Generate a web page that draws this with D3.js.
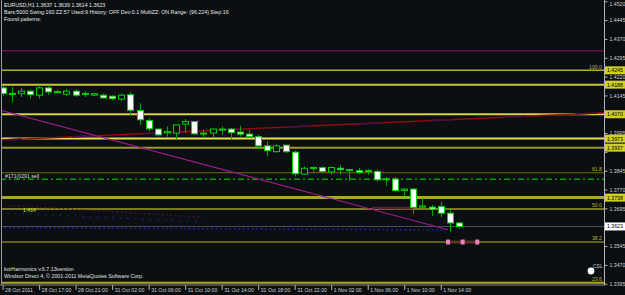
<!DOCTYPE html>
<html><head><meta charset="utf-8">
<script src="https://cdn.jsdelivr.net/npm/d3@7"></script>
<style>
html,body{margin:0;padding:0;background:#0b0f12;overflow:hidden}
svg{display:block}
text{font-family:"Liberation Sans",Arial,sans-serif}
</style>
</head><body>
<svg id="c" width="625" height="295"></svg>
<script>
// ---- data (EURUSD H1, bar 0 = 28 Oct 2011 13:00) ----
const opens  = [1.4175,1.4153,1.4152,1.4162,1.4146,1.4175,1.4160,1.4150,1.4162,1.4151,1.4146,1.4146,1.4142,1.4130,1.4148,1.4085,1.4045,1.4011,1.3996,1.3995,1.4031,1.4041,1.3994,1.3995,1.4010,1.4011,1.3999,1.3991,1.3981,1.3944,1.3921,1.3947,1.3919,1.3832,1.3855,1.3858,1.3840,1.3855,1.3850,1.3845,1.3846,1.3842,1.3811,1.3812,1.3766,1.3772,1.3700,1.3700,1.3703,1.3676,1.3637];
const highs  = [1.4183,1.4179,1.4175,1.4167,1.4186,1.4186,1.4168,1.4171,1.4170,1.4163,1.4155,1.4152,1.4146,1.4152,1.4159,1.4114,1.4054,1.4015,1.4021,1.4029,1.4051,1.4044,1.4008,1.4012,1.4021,1.4015,1.4024,1.4008,1.3988,1.3961,1.3952,1.3948,1.3925,1.3862,1.3862,1.3862,1.3862,1.3868,1.3851,1.3857,1.3851,1.3849,1.3820,1.3820,1.3776,1.3776,1.3736,1.3709,1.3722,1.3689,1.3639];
const lows   = [1.4143,1.4119,1.4139,1.4132,1.4132,1.4148,1.4154,1.4143,1.4139,1.4139,1.4143,1.4132,1.4126,1.4122,1.4066,1.4028,1.4001,1.3981,1.3981,1.3971,1.3995,1.3988,1.3975,1.3975,1.3988,1.3968,1.3981,1.3977,1.3932,1.3902,1.3917,1.3915,1.3822,1.3829,1.3838,1.3835,1.3829,1.3829,1.3805,1.3833,1.3829,1.3802,1.3785,1.3762,1.3742,1.3674,1.3696,1.3665,1.3660,1.3603,1.3614];
const closes = [1.4152,1.4152,1.4162,1.4148,1.4175,1.4159,1.4159,1.4162,1.4146,1.4153,1.4152,1.4135,1.4132,1.4146,1.4086,1.4048,1.4012,1.3988,1.4001,1.4028,1.4041,1.3992,1.3995,1.4011,1.4011,1.3997,1.3991,1.3981,1.3944,1.3925,1.3944,1.3921,1.3833,1.3855,1.3858,1.3842,1.3858,1.3849,1.3848,1.3838,1.3845,1.3809,1.3813,1.3766,1.3772,1.3699,1.3705,1.3692,1.3676,1.3637,1.3623];

const timeLabels = ["28 Oct 2011","28 Oct 17:00","28 Oct 21:00","31 Oct 02:00","31 Oct 06:00","31 Oct 10:00","31 Oct 14:00","31 Oct 18:00","31 Oct 22:00","1 Nov 02:00","1 Nov 06:00","1 Nov 10:00","1 Nov 14:00"];
const timeLabelBars = [0,4,8,12,16,20,24,28,32,36,40,44,48];
const priceTicks = [1.4520,1.4445,1.4370,1.4295,1.4220,1.4145,1.4070,1.3995,1.3920,1.3845,1.3770,1.3695,1.3620,1.3545,1.3470,1.3395];

const levelPrices = [1.4245,1.4188,1.4070,1.3973,1.3937,1.3738];
const levelColors = ["#b0b028","#c8c83c","#d4d448","#e4e450","#9a9a26","#a8a82c"];
const levelWidths = [1.5,2,2,2,2,3];
const fibPrices = [1.4245,1.3837,1.3693,1.3561,1.3399];
const fibLabels = ["100.0","61.8","50.0","38.2","23.6"];
const currentPrice = 1.3623;
const purpleLevel = 1.4323;
const sellLevel = 1.3811;
const redTrend = [[-0.3,1.3967],[65.9,1.4076]];
const magentaTrend = [[-0.3,1.4087],[48.8,1.3610]];
const purpleDots = [[-0.3,1.3709],[21.6,1.3661]];
const blueDots1 = [[-0.3,1.3677],[22,1.3642]];
const blueDots2 = [[-0.3,1.3618],[48.5,1.3609]];
const pinkBand = [[40.5,1.3700],[45.0,1.3692]];
const prz = [[48.8,1.3561],[52.0,1.3561]];

const headerLines = ["EURUSD,H1  1.3637 1.3639 1.3614 1.3623",
  "Bars:5000  Swing:160  ZZ:57  Used:9  History: OFF Dev:0.1  MultiZZ: ON  Range: (96.224)  Step:16",
  "Found patterns:"];
const footerLines = ["korHarmonics v.6.7.13version","Windsor Direct 4, \u00a9 2001-2011 MetaQuotes Software Corp."];

// ---- drawing ----
const W=625,H=295, right=604, bottom=284.5;
const svg=d3.select("#c");
svg.append("rect").attr("width",W).attr("height",H).attr("fill","#0b0f12");
const x=d3.scaleLinear().domain([0,50]).range([2.6,459]);
const y=d3.scaleLinear().domain([1.3395,1.4520]).range([283.7,1.3]);

svg.append("clipPath").attr("id","pc").append("rect").attr("x",2).attr("y",0).attr("width",right-2).attr("height",bottom);
const g=svg.append("g").attr("clip-path","url(#pc)");

g.append("line").attr("x1",0).attr("x2",right).attr("y1",y(purpleLevel)).attr("y2",y(purpleLevel)).attr("stroke","#6a0f4c").attr("stroke-width",1.5);

levelPrices.forEach((p,i)=>{
  g.append("line").attr("x1",0).attr("x2",right).attr("y1",y(p)).attr("y2",y(p))
   .attr("stroke",levelColors[i]).attr("stroke-width",levelWidths[i]);
});
fibPrices.slice(1).forEach((p,i)=>{
  const cols=["#6e6e10","#a0a024","#7c7c12","#a8a824"];
  const ws=[1,1.5,1.5,2];
  g.append("line").attr("x1",0).attr("x2",right).attr("y1",y(p)).attr("y2",y(p))
   .attr("stroke",cols[i]).attr("stroke-width",ws[i]);
});
g.append("line").attr("x1",0).attr("x2",right).attr("y1",y(sellLevel)).attr("y2",y(sellLevel))
 .attr("stroke","#00a000").attr("stroke-width",1.3).attr("stroke-dasharray","6,3,2,3");
g.append("line").attr("x1",0).attr("x2",right).attr("y1",y(currentPrice)).attr("y2",y(currentPrice))
 .attr("stroke","#4c505c").attr("stroke-width",1);

const ln=d3.line().x(d=>x(d[0])).y(d=>y(d[1]));
g.append("path").attr("d",ln(purpleDots)).attr("fill","none").attr("stroke","#5a1050").attr("stroke-width",1.2).attr("stroke-dasharray","1.5,3");
g.append("path").attr("d",ln(blueDots1)).attr("fill","none").attr("stroke","#1a22b0").attr("stroke-width",1.2).attr("stroke-dasharray","1.5,6");
g.append("path").attr("d",ln(blueDots2)).attr("fill","none").attr("stroke","#2028c8").attr("stroke-width",1.4).attr("stroke-dasharray","1.5,3");
g.append("path").attr("d",ln(redTrend)).attr("fill","none").attr("stroke","#8e0a16").attr("stroke-width",1.5);
g.append("path").attr("d",ln(redTrend)).attr("fill","none").attr("stroke","#4a0c40").attr("stroke-width",1.6).attr("stroke-dasharray","22,50");
g.append("path").attr("d",ln(magentaTrend)).attr("fill","none").attr("stroke","#9a1a8e").attr("stroke-width",1.1);
g.append("rect").attr("x",x(pinkBand[0][0])).attr("y",y(pinkBand[0][1])).attr("width",x(pinkBand[1][0])-x(pinkBand[0][0])).attr("height",y(pinkBand[1][1])-y(pinkBand[0][1]))
 .attr("fill","#4a2030").attr("stroke","#7a3a50").attr("stroke-width",0.8).attr("stroke-dasharray","1,1");

const bars=d3.range(opens.length);
const cg=g.append("g");
cg.selectAll("line.w").data(bars).join("line").attr("class","w")
  .attr("x1",i=>Math.round(x(i))+0.5).attr("x2",i=>Math.round(x(i))+0.5)
  .attr("y1",i=>y(highs[i])).attr("y2",i=>y(lows[i]))
  .attr("stroke","#00a800").attr("stroke-width",1);
cg.selectAll("rect.b").data(bars).join("rect").attr("class","b")
  .attr("x",i=>Math.round(x(i))-2.5).attr("width",6)
  .attr("y",i=>y(Math.max(opens[i],closes[i])))
  .attr("height",i=>Math.max(1,Math.abs(y(opens[i])-y(closes[i]))))
  .attr("fill",i=>opens[i]>closes[i]?"#ffffff":"#0b0f12")
  .attr("stroke","#00d000").attr("stroke-width",1);

const py=y(prz[0][1]);
g.append("rect").attr("x",x(prz[0][0])).attr("y",py-1.5).attr("width",x(prz[1][0])-x(prz[0][0])).attr("height",3).attr("fill","#5a3424");
[prz[0][0],(prz[0][0]+prz[1][0])/2,prz[1][0]].forEach(b=>{
  g.append("rect").attr("x",x(b)-2).attr("y",py-2.5).attr("width",4).attr("height",5).attr("fill","#f080c0");
});

fibPrices.forEach((p,i)=>{
  g.append("text").attr("x",602).attr("y",y(p)-1.8).attr("text-anchor","end").attr("font-size",5.2)
   .attr("fill","#b4b440").text(fibLabels[i]);
});
g.append("text").attr("x",5).attr("y",y(sellLevel)-1.6).attr("font-size",5.2).attr("fill","#d8d8d8").text("#171(0291 sell");
g.append("text").attr("x",23).attr("y",y(1.3693)+3.2).attr("font-size",5.2).attr("fill","#c8e040").text("1.414");
g.append("circle").attr("cx",591).attr("cy",271).attr("r",3.4).attr("fill","#ffffff");
g.append("text").attr("x",593).attr("y",268).attr("font-size",5).attr("fill","#c8c8c8").text("CSL");

svg.append("line").attr("x1",1.5).attr("x2",1.5).attr("y1",0).attr("y2",bottom).attr("stroke","#9a9a9a");
svg.append("line").attr("x1",right+0.5).attr("x2",right+0.5).attr("y1",0).attr("y2",bottom+1).attr("stroke","#b4b4b4");

// price axis (labels hidden where a level box covers them)
const boxPrices = levelPrices.concat([currentPrice]);
const covered = v => boxPrices.some(p=>Math.abs(y(p)-y(v))<5.5);
const ya=d3.axisRight(y).tickValues(priceTicks).tickSize(3).tickPadding(2).tickFormat(d3.format(".4f"));
const yg=svg.append("g").attr("transform",`translate(${right+0.5},0)`).call(ya);
yg.select(".domain").remove();
yg.selectAll("line").attr("stroke","#b4b4b4");
yg.selectAll("text").attr("fill","#d0d0d0").attr("font-size",5.2).attr("font-family","Liberation Sans, Arial, sans-serif")
  .attr("dy",(d,i)=>i===0?"0.9em":"0.32em")
  .style("display",d=>covered(d)?"none":null);

levelPrices.forEach(p=>{
  svg.append("rect").attr("x",right+1).attr("y",y(p)-4).attr("width",20).attr("height",8).attr("fill","#d0d024");
  svg.append("text").attr("x",right+3).attr("y",y(p)+2).attr("font-size",5.2).attr("fill","#000").text(p.toFixed(4));
});
svg.append("rect").attr("x",right+1).attr("y",y(currentPrice)-4).attr("width",20).attr("height",8).attr("fill","#ffffff");
svg.append("text").attr("x",right+3).attr("y",y(currentPrice)+2).attr("font-size",5.2).attr("fill","#000").text(currentPrice.toFixed(4));

const xa=d3.axisBottom(x).tickValues(timeLabelBars).tickSize(5).tickFormat((d,i)=>timeLabels[i]);
const xg=svg.append("g").attr("transform",`translate(0,${bottom+0.5})`).call(xa);
xg.select(".domain").attr("stroke","#8a8a8a").attr("d",`M0,0H${right}`);
xg.selectAll("line").attr("stroke","#b4b4b4");
xg.selectAll("text").attr("fill","#d0d0d0").attr("font-size",5.2).attr("text-anchor","start").attr("dx",2).attr("dy",-1.4)
  .attr("font-family","Liberation Sans, Arial, sans-serif");

headerLines.forEach((t,i)=>{
  svg.append("text").attr("x",4).attr("y",7+i*7).attr("font-size",5.3).attr("fill","#e8e8e8").text(t);
});
footerLines.forEach((t,i)=>{
  svg.append("text").attr("x",4).attr("y",271+i*6.5).attr("font-size",5.3).attr("fill","#e0e0e0").text(t);
});
</script>
</body></html>
